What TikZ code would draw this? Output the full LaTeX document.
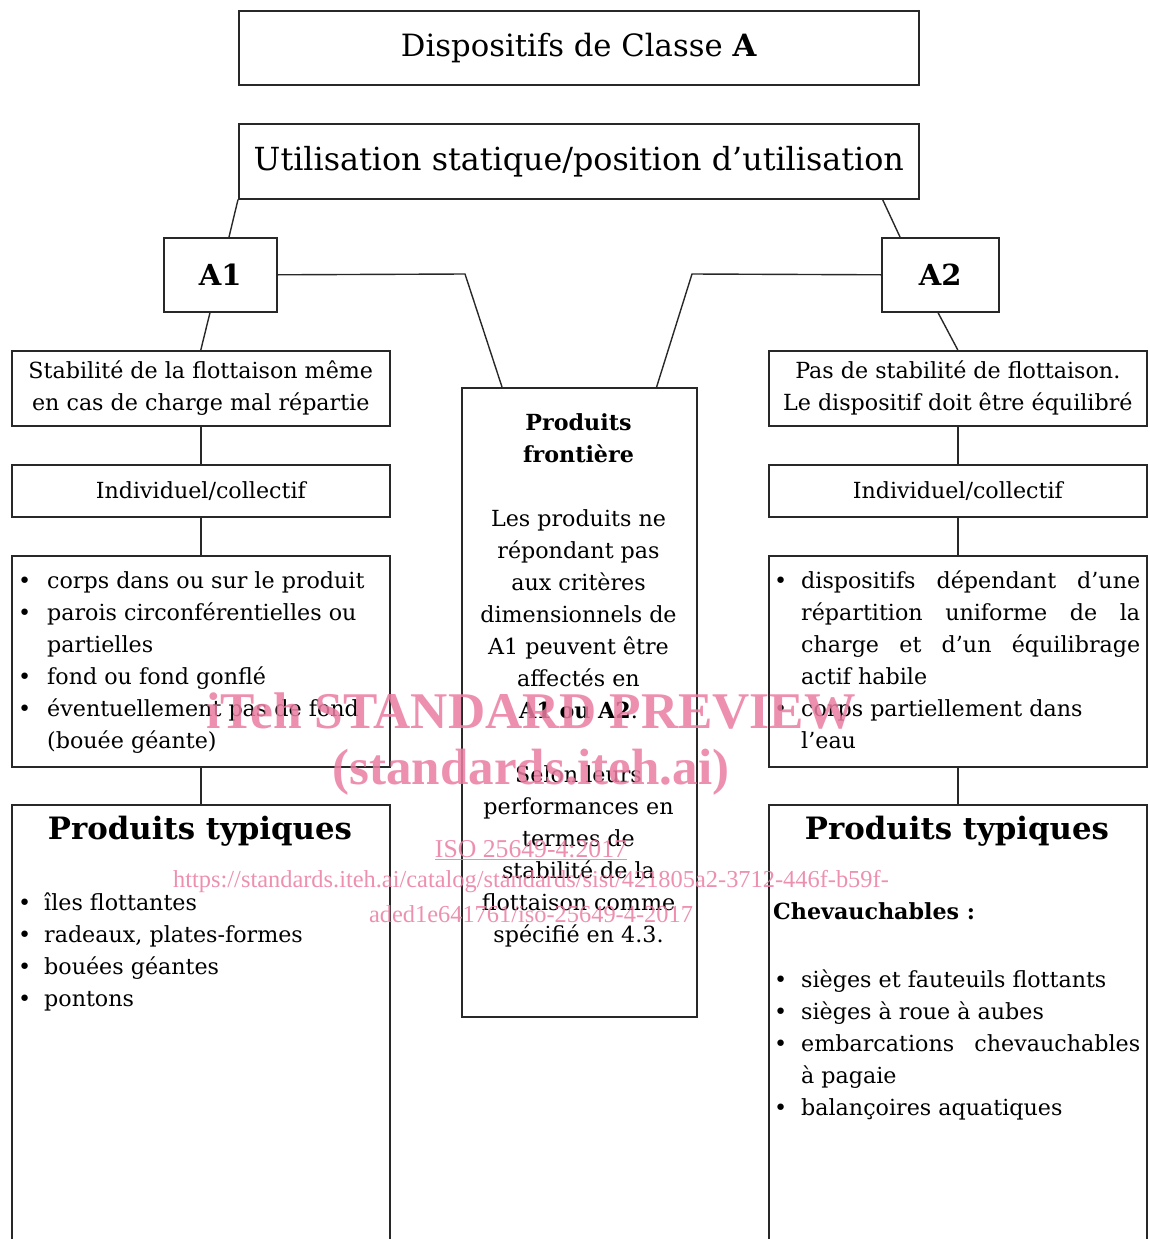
\documentclass[tikz,border=0pt]{standalone}
\usepackage{fontspec}
\setmainfont{DejaVu Serif}
\newfontfamily\wmfont{Liberation Serif}
\definecolor{wm}{RGB}{234,125,162}
\definecolor{ln}{RGB}{40,40,40}
\newcommand{\body}{\fontsize{22.2}{32}\selectfont}
\newlength{\bulind}
\setlength{\bulind}{25pt}
\newcommand{\bul}[1]{\par\noindent\hangindent=\bulind\hangafter=1\makebox[\bulind][l]{\textbullet}#1\par}
\begin{document}
\begin{tikzpicture}[x=1pt,y=-1pt,
  bx/.style={draw=ln,line width=1.6pt,anchor=north west,inner sep=0pt},
  cn/.style={draw=ln,line width=1.4pt},
  wmt/.style={text=wm,opacity=0.85,inner sep=0pt}]
\useasboundingbox (0,0) rectangle (1150,1239);
% boxes
\node[bx,minimum width=680pt,minimum height=74pt] (top) at (238,10) {};
\node[font=\fontsize{30.7}{36}\selectfont] (toptxt) at (top.center) {Dispositifs de Classe \textbf{A}};
\node[bx,minimum width=680pt,minimum height=75pt] (util) at (238,123) {};
\node[font=\fontsize{31.8}{36}\selectfont] (utiltxt) at (util.center) {Utilisation statique/position d’utilisation};
\node[bx,minimum width=113pt,minimum height=74pt] (A1) at (163,237) {};
\node[font=\fontsize{29}{34}\selectfont\bfseries] (A1t) at (A1.center) {A1};
\node[bx,minimum width=117pt,minimum height=74pt] (A2) at (881,237) {};
\node[font=\fontsize{29}{34}\selectfont\bfseries] (A2t) at (A2.center) {A2};
% left column
\node[bx,minimum width=378pt,minimum height=75pt] (L1) at (11,350) {};
\node[font=\body,align=center] (L1t) at (L1.center) {Stabilité de la flottaison même\\en cas de charge mal répartie};
\node[bx,minimum width=378pt,minimum height=52pt] (L2) at (11,464) {};
\node[font=\body] (L2t) at (L2.center) {Individuel/collectif};
\node[bx,minimum width=378pt,minimum height=211pt] (L3) at (11,555) {};
\node[anchor=north west,inner sep=0pt,font=\body] (L3t) at (18,571) {\setlength{\bulind}{29pt}\parbox[t]{368pt}{\raggedright
\bul{corps dans ou sur le produit}
\bul{parois circonférentielles ou partielles}
\bul{fond ou fond gonflé}
\bul{éventuellement pas de fond (bouée géante)}}};
\node[bx,minimum width=378pt,minimum height=460pt] (L4) at (11,804) {};
\node[font=\fontsize{30.8}{36}\selectfont\bfseries] (L4h) at (200,831) {Produits typiques};
\node[anchor=north west,inner sep=0pt,font=\body] (L4t) at (18,893) {\setlength{\bulind}{26pt}\parbox[t]{368pt}{\raggedright
\bul{îles flottantes}
\bul{radeaux, plates-formes}
\bul{bouées géantes}
\bul{pontons}}};
% right column
\node[bx,minimum width=378pt,minimum height=75pt] (R1) at (768,350) {};
\node[font=\body,align=center] (R1t) at (R1.center) {Pas de stabilité de flottaison.\\Le dispositif doit être équilibré};
\node[bx,minimum width=378pt,minimum height=52pt] (R2) at (768,464) {};
\node[font=\body] (R2t) at (R2.center) {Individuel/collectif};
\node[bx,minimum width=378pt,minimum height=211pt] (R3) at (768,555) {};
\node[anchor=north west,inner sep=0pt,font=\body] (R3t) at (774,571) {\setlength{\bulind}{27pt}\parbox[t]{366pt}{\hyphenpenalty=10000\exhyphenpenalty=10000
\bul{dispositifs dépendant d’une répartition uniforme de la charge et d’un équilibrage actif habile}
\bul{corps partiellement dans\newline l’eau}}};
\node[bx,minimum width=378pt,minimum height=460pt] (R4) at (768,804) {};
\node[font=\fontsize{30.8}{36}\selectfont\bfseries] (R4h) at (957,831) {Produits typiques};
\node[anchor=west,inner sep=0pt,font=\body\bfseries] (R4s) at (773,911) {Chevauchables :};
\node[anchor=north west,inner sep=0pt,font=\body] (R4t) at (774,970) {\setlength{\bulind}{27pt}\parbox[t]{366pt}{\hyphenpenalty=10000\exhyphenpenalty=10000
\bul{sièges et fauteuils flottants}
\bul{sièges à roue à aubes}
\bul{embarcations chevauchables\linebreak à pagaie}
\bul{balançoires aquatiques}}};
% center
\node[bx,minimum width=235pt,minimum height=629pt] (C) at (461,387) {};
\node[anchor=north,inner sep=0pt,font=\body,align=center] (Ct) at (578.5,413) {\textbf{Produits}\\\textbf{frontière}\\[32pt]Les produits ne\\répondant pas\\aux critères\\dimensionnels de\\A1 peuvent être\\affectés en\\\textbf{A1 ou A2}.\\[32pt]Selon leurs\\performances en\\termes de\\stabilité de la\\flottaison comme\\spécifié en 4.3.};
% connectors
\coordinate (A1in) at ([xshift=66pt]A1.north west);
\coordinate (A2in) at ([xshift=19pt]A2.north west);
\draw[cn] (util.south west) -- (A1in);
\draw[cn] ([xshift=-37pt]util.south east) -- (A2in);
\coordinate (k1) at (465,274);
\coordinate (k2) at (692,274);
\draw[cn] (A1.east) -- (k1) -- ([xshift=41pt]C.north west);
\draw[cn] (A2.west) -- (k2) -- ([xshift=-41pt]C.north east);
\draw[cn] ([xshift=47pt]A1.south west) -- (L1.north);
\draw[cn] ([xshift=57pt]A2.south west) -- (R1.north);
\draw[cn] (L1.south) -- (L2.north);
\draw[cn] (L2.south) -- (L3.north);
\draw[cn] (L3.south) -- (L4.north);
\draw[cn] (R1.south) -- (R2.north);
\draw[cn] (R2.south) -- (R3.north);
\draw[cn] (R3.south) -- (R4.north);
% watermark
\node[wmt,font=\wmfont\bfseries\fontsize{51.5}{56}\selectfont] (w1) at (531,711) {iTeh STANDARD PREVIEW};
\node[wmt,font=\wmfont\bfseries\fontsize{51}{56}\selectfont] (w2) at (531,772) {(standards.iteh.ai)};
\node[wmt,font=\wmfont\fontsize{25.7}{28}\selectfont] (w3) at (531,850) {\underline{ISO 25649-4:2017}};
\node[wmt,font=\wmfont\fontsize{24.4}{28}\selectfont] (w4) at (531,882) {https://standards.iteh.ai/catalog/standards/sist/421805a2-3712-446f-b59f-};
\node[wmt,font=\wmfont\fontsize{24.4}{28}\selectfont] (w5) at (531,914) {aded1e641761/iso-25649-4-2017};
\end{tikzpicture}
\end{document}
